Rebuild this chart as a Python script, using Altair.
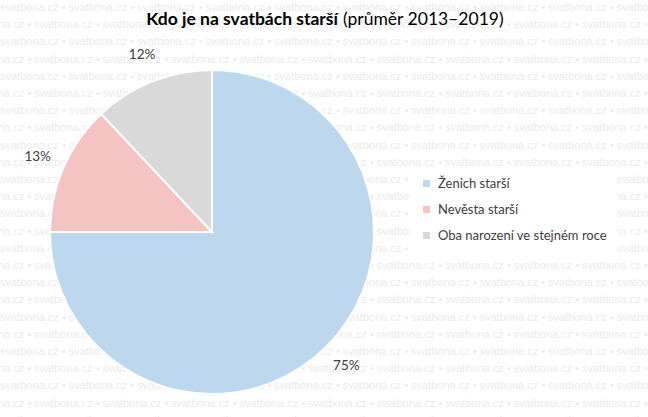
import altair as alt
import pandas as pd

# --- data ---
categories = ["Ženich starší", "Nevěsta starší", "Oba narození ve stejném roce"]
values = [75, 13, 12]
labels = ["75%", "13%", "12%"]
colors = ["#bdd7ee", "#f5c3c2", "#d9d9d9"]

title_bold = "Kdo je na svatbách starší"
title_normal = "(průměr 2013–2019)"
watermark = "svatbona.cz"

W, H = 648, 417
CX, CY, R = 212, 232, 162

df = pd.DataFrame({"cat": categories, "val": values, "lab": labels, "order": [0, 1, 2]})

# background watermark (decoration)
wm_rows = []
period, rowh = 68.5, 17.2
for r in range(25):
    y = 8 + r * rowh
    off = 0 if r % 2 == 0 else 34
    for c in range(-1, 10):
        x = off + c * period
        if x < -60 or x > W - 10:
            continue
        wm_rows.append({"x": x, "y": y, "t": watermark})
        wm_rows.append({"x": x + 62, "y": y, "t": "•"})
wm = pd.DataFrame(wm_rows)

bg = alt.Chart(wm).mark_text(
    align="left", baseline="middle", font="Liberation Sans",
    fontSize=11, color="#ebebeb"
).encode(
    x=alt.X("x:Q", scale=None), y=alt.Y("y:Q", scale=None), text="t:N"
)

base = alt.Chart(df)

pie = base.mark_arc(outerRadius=R, stroke="white", strokeWidth=2).encode(
    theta=alt.Theta("val:Q", stack=True),
    order=alt.Order("order:Q"),
    color=alt.Color(
        "cat:N",
        scale=alt.Scale(domain=categories, range=colors),
        legend=alt.Legend(
            title=None, orient="none", legendX=410, legendY=167,
            symbolType="square", symbolSize=49, symbolStrokeWidth=0,
            labelFontSize=13, labelFont="Lato", labelColor="#404040",
            labelOffset=5, labelLimit=400, rowPadding=12, padding=10,
            fillColor="white",
        ),
    ),
    x=alt.value(CX), y=alt.value(CY),
)

txt = base.mark_text(radius=190, font="Lato", fontSize=13.5, color="#404040").encode(
    theta=alt.Theta("val:Q", stack=True),
    order=alt.Order("order:Q"),
    text="lab:N",
    x=alt.value(CX), y=alt.value(CY),
)

t1 = alt.Chart(pd.DataFrame({"t": [title_bold]})).mark_text(
    align="right", baseline="middle", font="Lato", fontSize=17.5, fontWeight="bold", color="#000000"
).encode(x=alt.value(338), y=alt.value(20), text="t:N")

t2 = alt.Chart(pd.DataFrame({"t": [title_normal]})).mark_text(
    align="left", baseline="middle", font="Lato", fontSize=17.5, color="#000000"
).encode(x=alt.value(343), y=alt.value(20), text="t:N")

chart = alt.layer(bg, pie, txt, t1, t2).properties(
    width=W, height=H, autosize=alt.AutoSizeParams(type="none"), padding=0,
    background="white"
).configure_view(stroke=None)

chart.save("out.html", embed_options={"renderer": "svg", "actions": False})
